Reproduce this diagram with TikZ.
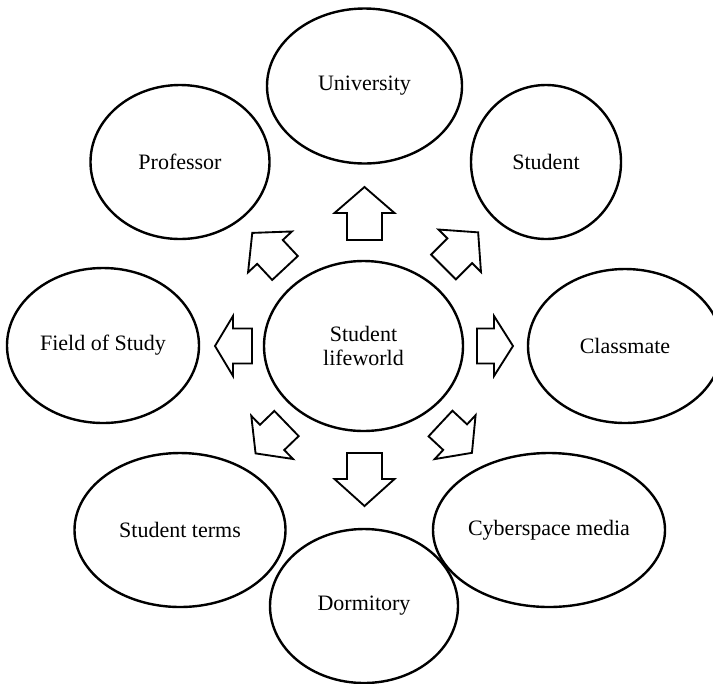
\documentclass[tikz,border=0pt]{standalone}
\usepackage{fontspec}
\setmainfont{Liberation Serif}
\usetikzlibrary{shapes.geometric}
\newcommand{\blockarrow}[4]{%
  \begin{scope}[shift={(#1)}, rotate=#2]
    \draw[arrowline] (0,-17.5) -- ({#3-#4},-17.5) -- ({#3-#4},-30) -- (#3,0)
      -- ({#3-#4},30) -- ({#3-#4},17.5) -- (0,17.5) -- cycle;
  \end{scope}}
\begin{document}
\begin{tikzpicture}[x=0.75pt, y=-0.75pt,
  bubble/.style={ellipse, draw=black, line width=1.8pt, inner sep=0pt,
    font=\fontsize{16.5}{17.5}\selectfont, align=center},
  arrowline/.style={draw=black, fill=white, line width=1.4pt, line join=miter}]
\useasboundingbox (0,0) rectangle (713,683);
\clip (0,0) rectangle (713,683);
\node[bubble, minimum width={199*0.75pt}, minimum height={170*0.75pt}] (center) at (363.5,346) {Student\\lifeworld};
\node[bubble, minimum width={195*0.75pt}, minimum height={155*0.75pt}] (univ) at (364.5,86) {University};
\node[bubble, minimum width={179*0.75pt}, minimum height={154*0.75pt}] (prof) at (180,162) {Professor};
\node[bubble, minimum width={150*0.75pt}, minimum height={154*0.75pt}] (stud) at (546,162) {Student};
\node[bubble, minimum width={194*0.75pt}, minimum height={154*0.75pt}] (class) at (625,346) {Classmate};
\node[bubble, minimum width={192*0.75pt}, minimum height={155*0.75pt}] (field) at (103,345.5) {Field of Study};
\node[bubble, minimum width={211*0.75pt}, minimum height={154*0.75pt}] (terms) at (180,530) {Student terms};
\node[bubble, minimum width={188*0.75pt}, minimum height={154*0.75pt}] (dorm) at (364,606) {Dormitory};
\node[bubble, minimum width={232*0.75pt}, minimum height={154*0.75pt}] (cyber) at (549,530) {Cyberspace media};
% block arrows
\blockarrow{364.5,240}{90}{53}{26}
\blockarrow{364.5,453}{-90}{53}{27}
\blockarrow{252,346}{180}{37}{18}
\blockarrow{477,346}{0}{36}{19}
\blockarrow{285,268}{133}{48}{26}
\blockarrow{443.5,267}{45}{49}{26}
\blockarrow{286.5,423.5}{224}{43}{23}
\blockarrow{440.5,423.5}{-43}{43}{23}
\end{tikzpicture}
\end{document}
